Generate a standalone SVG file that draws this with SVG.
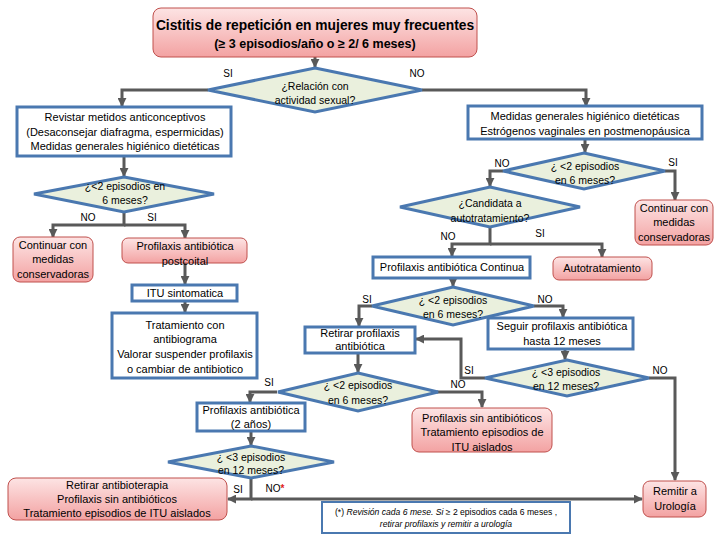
<svg xmlns="http://www.w3.org/2000/svg" width="720" height="540" viewBox="0 0 720 540">
<defs>
<linearGradient id="pg" x1="0" y1="0" x2="0" y2="1">
<stop offset="0" stop-color="#fde4e4"/>
<stop offset="1" stop-color="#f3a2a2"/>
</linearGradient>
<marker id="ah" viewBox="0 0 10 10" refX="9" refY="5" markerWidth="9" markerHeight="9" markerUnits="userSpaceOnUse" orient="auto">
<path d="M0,0 L10,5 L0,10 z" fill="#595959"/>
</marker>
</defs>
<style>
.box{fill:#fff;stroke:#4a78b0;stroke-width:3}
.dia{fill:#eaf0dd;stroke:#4a78b0;stroke-width:3}
.pink{fill:url(#pg);stroke:#c0504d;stroke-width:1}
.con{fill:none;stroke:#595959;stroke-width:3;marker-end:url(#ah)}
text{font-family:"Liberation Sans",Arial,sans-serif;font-size:11px;fill:#000;text-anchor:middle}
.d{font-size:10.5px}
.t{font-weight:bold;font-size:13.8px}
.t2{font-weight:bold;font-size:12.5px}
.lb{font-size:10px}
.fn{font-size:8.6px}
.it{font-style:italic}
</style>
<rect width="720" height="540" fill="#fff"/>

<g id="connectors">
<path class="con" d="M315,57 V67"/>
<path class="con" d="M208,90 H122 V106"/>
<path class="con" d="M422,90 H586 V106"/>
<path class="con" d="M124,156 V176"/>
<path class="con" d="M124,212 V225 H53 V237"/>
<path class="con" d="M124,225 H185 V238"/>
<path class="con" d="M185,263 V284"/>
<path class="con" d="M185,300 V312"/>
<path class="con" d="M585,139 V152"/>
<path class="con" d="M503,171 H490 V186"/>
<path class="con" d="M665,171 H675 V200"/>
<path class="con" d="M490,227 V244 H452 V256"/>
<path class="con" d="M490,244 H602 V257"/>
<path class="con" d="M453,278 V286"/>
<path class="con" d="M372,306 H359 V326"/>
<path class="con" d="M534,306 H563 V317"/>
<path class="con" d="M565,349 V359"/>
<path class="con" d="M485,378 H461 V339 H416"/>
<path class="con" d="M649,378 H675 V480"/>
<path class="con" d="M358,353 V372"/>
<path class="con" d="M277,392 H250 V402"/>
<path class="con" d="M437,392 H482 V407"/>
<path class="con" d="M251,431 V445"/>
<path class="con" d="M251,478 V499 H228"/>
<path class="con" d="M251,499 H642"/>
</g>

<g id="n-title">
<rect class="pink" x="153" y="8" width="324" height="49" rx="8" stroke="#c86060"/>
<text class="t" x="315" y="30">Cistitis de repetición en mujeres muy frecuentes</text>
<text class="t2" x="315" y="48">(≥ 3 episodios/año o ≥ 2/ 6 meses)</text>
</g>

<g id="n-d1">
<polygon class="dia" points="315,68 422,90 315,112 208,90"/>
<text class="d" x="315" y="90">¿Relación con</text>
<text class="d" x="315" y="104">actividad sexual?</text>
<text class="lb" x="228" y="77">SI</text>
<text class="lb" x="417" y="77">NO</text>
</g>

<g id="n-revistar">
<rect class="box" x="17" y="107" width="214" height="49"/>
<text x="125" y="121">Revistar metidos anticonceptivos</text>
<text x="125" y="136">(Desaconsejar diafragma, espermicidas)</text>
<text x="125" y="150">Medidas generales higiénico dietéticas</text>
</g>

<g id="n-medidas">
<rect class="box" x="468" y="106" width="234" height="33"/>
<text x="585" y="120">Medidas generales higiénico dietéticas</text>
<text x="585" y="135">Estrógenos vaginales  en postmenopáusica</text>
</g>

<g id="n-dl">
<polygon class="dia" points="124,177 214,194 124,212 34,194"/>
<text class="d" x="125" y="190">¿&lt;2 episodios en</text>
<text class="d" x="125" y="204">6 meses?</text>
<text class="lb" x="88" y="221">NO</text>
<text class="lb" x="152" y="221">SI</text>
</g>

<g id="n-contL">
<rect class="pink" x="13" y="237" width="80" height="45" rx="7"/>
<text x="53" y="249">Continuar con</text>
<text x="53" y="263">medidas</text>
<text x="53" y="278">conservadoras</text>
</g>

<g id="n-postcoital">
<rect class="pink" x="122" y="238" width="125" height="25" rx="6"/>
<text x="185" y="250">Profilaxis antibiótica</text>
<text x="185" y="265">postcoital</text>
</g>

<g id="n-itu">
<rect class="box" x="132" y="285" width="105" height="16"/>
<text x="185" y="297">ITU sintomatica</text>
</g>

<g id="n-trat">
<rect class="box" x="112" y="313" width="145" height="65"/>
<text x="185" y="329">Tratamiento  con</text>
<text x="185" y="343">antibiograma</text>
<text x="185" y="358">Valorar suspender profilaxis</text>
<text x="185" y="373">o cambiar de antibiotico</text>
</g>

<g id="n-d2">
<polygon class="dia" points="584,153 665,171 584,189 503,171"/>
<text class="d" x="585" y="170">¿ &lt;2 episodios</text>
<text class="d" x="585" y="184">en 6 meses?</text>
<text class="lb" x="502" y="167">NO</text>
<text class="lb" x="673" y="166">SI</text>
</g>

<g id="n-contR">
<rect class="pink" x="635" y="200" width="78" height="45" rx="7"/>
<text x="674" y="212">Continuar con</text>
<text x="674" y="226">medidas</text>
<text x="674" y="241">conservadoras</text>
</g>

<g id="n-d3">
<polygon class="dia" points="490,187 580,207 490,227 400,207"/>
<text class="d" x="490" y="207">¿Candidata a</text>
<text class="d" x="490" y="222">autotratamiento?</text>
<text class="lb" x="448" y="240">NO</text>
<text class="lb" x="540" y="237">SI</text>
</g>

<g id="n-profcont">
<rect class="box" x="373" y="257" width="157" height="21"/>
<text x="452" y="271">Profilaxis antibiótica Continua</text>
</g>

<g id="n-auto">
<rect class="pink" x="553" y="257" width="99" height="23" rx="6"/>
<text x="602" y="272">Autotratamiento</text>
</g>

<g id="n-d4">
<polygon class="dia" points="453,287 534,306 453,325 372,306"/>
<text class="d" x="453" y="304">¿ &lt;2 episodios</text>
<text class="d" x="453" y="318">en 6 meses?</text>
<text class="lb" x="367" y="303">SI</text>
<text class="lb" x="545" y="303">NO</text>
</g>

<g id="n-retirar">
<rect class="box" x="305" y="327" width="110" height="26"/>
<text x="360" y="337">Retirar profilaxis</text>
<text x="360" y="350">antibiótica</text>
</g>

<g id="n-seguir">
<rect class="box" x="488" y="318" width="145" height="31"/>
<text x="562" y="330">Seguir profilaxis antibiótica</text>
<text x="562" y="345">hasta 12 meses</text>
</g>

<g id="n-d5">
<polygon class="dia" points="567,360 649,378 567,396 485,378"/>
<text class="d" x="566" y="376">¿ &lt;3 episodios</text>
<text class="d" x="566" y="390">en 12 meses?</text>
<text class="lb" x="469" y="374">SI</text>
<text class="lb" x="660" y="374">NO</text>
</g>

<g id="n-d6">
<polygon class="dia" points="358,373 438,392 358,411 278,392"/>
<text class="d" x="358" y="389">¿ &lt;2 episodios</text>
<text class="d" x="358" y="404">en 6 meses?</text>
<text class="lb" x="269" y="386">SI</text>
<text class="lb" x="458" y="388">NO</text>
</g>

<g id="n-profsin">
<rect class="pink" x="412" y="408" width="140" height="44" rx="7"/>
<text x="482" y="422">Profilaxis sin antibióticos</text>
<text x="482" y="436">Tratamiento episodios de</text>
<text x="482" y="451">ITU aislados</text>
</g>

<g id="n-prof2">
<rect class="box" x="197" y="403" width="108" height="28"/>
<text x="251" y="414">Profilaxis antibiótica</text>
<text x="251" y="428">(2 años)</text>
</g>

<g id="n-d7">
<polygon class="dia" points="251,446 334,462 251,478 168,462"/>
<text class="d" x="251" y="461">¿ &lt;3 episodios</text>
<text class="d" x="251" y="474">en 12 meses?</text>
<text class="lb" x="238" y="493">SI</text>
<text class="lb" x="275" y="492">NO<tspan fill="#e02020" font-weight="bold">*</tspan></text>
</g>

<g id="n-retiraranti">
<rect class="pink" x="8" y="478" width="219" height="42" rx="8"/>
<text x="117" y="489">Retirar antibioterapia</text>
<text x="117" y="503">Profilaxis sin antibióticos</text>
<text x="117" y="517">Tratamiento episodios de  ITU aislados</text>
</g>

<g id="n-remitir">
<rect class="pink" x="643" y="481" width="63" height="36" rx="7"/>
<text x="675" y="495">Remitir a</text>
<text x="675" y="510">Urología</text>
</g>

<g id="n-footnote">
<rect x="322" y="502" width="248" height="31" fill="#fff" stroke="#4a78b0" stroke-width="2"/>
<text class="fn" x="446" y="515">(*)  <tspan class="it">Revisión cada 6 mese. Si ≥</tspan> 2 episodios cada 6 meses ,</text>
<text class="fn it" x="446" y="527">retirar profilaxis y remitir a urología</text>
</g>
</svg>
